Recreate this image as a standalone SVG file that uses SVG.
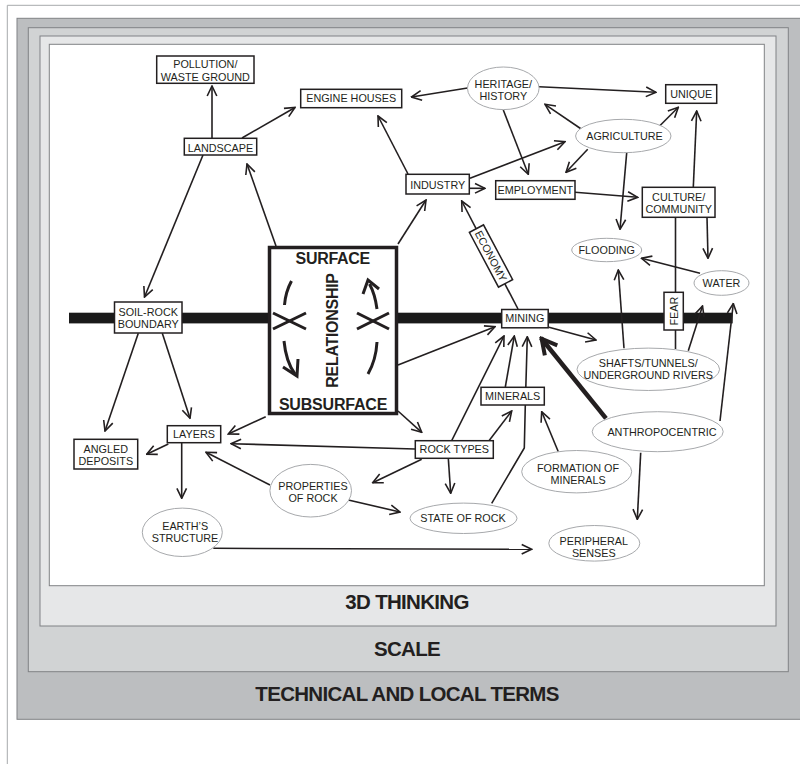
<svg xmlns="http://www.w3.org/2000/svg" width="800" height="764" viewBox="0 0 800 764">
<style>
.box{fill:#fff;stroke:#231f20;stroke-width:1.5}
.ell{fill:#fff;stroke:#a7a9ac;stroke-width:1}
.t{font-family:"Liberation Sans",Arial,sans-serif;font-size:10.8px;fill:#231f20;text-anchor:middle}
.c{fill:none;stroke:#231f20;stroke-width:1.6;marker-end:url(#a)}
.l{fill:none;stroke:#231f20;stroke-width:1.6}
.b{font-family:"Liberation Sans",Arial,sans-serif;font-weight:bold;fill:#231f20;text-anchor:middle}
.frame{stroke:#808285;stroke-width:1}
.arc{fill:none;stroke:#231f20;stroke-width:3;stroke-linecap:butt}
</style>
<defs>
<marker id="a" viewBox="0 0 12 12" refX="11" refY="6" markerWidth="12" markerHeight="12" markerUnits="userSpaceOnUse" orient="auto">
<path d="M1,1.2 L11,6 L1,10.8" fill="none" stroke="#231f20" stroke-width="1.6"/>
</marker>
<marker id="ab" viewBox="0 0 20 20" refX="18" refY="10" markerWidth="20" markerHeight="20" markerUnits="userSpaceOnUse" orient="auto">
<path d="M2,2 L17,10 L2,18" fill="none" stroke="#231f20" stroke-width="4"/>
</marker>
</defs>

<g id="frames">
<line x1="7.3" y1="5.3" x2="800" y2="5.3" stroke="#a7a9ac" stroke-width="1"/>
<line x1="7.3" y1="5.3" x2="7.3" y2="764" stroke="#a7a9ac" stroke-width="1"/>
<rect class="frame" x="17" y="18.3" width="800" height="701" fill="#bcbec0"/>
<rect class="frame" x="28.3" y="27.7" width="760" height="644" fill="#d1d3d4"/>
<rect class="frame" x="40" y="36" width="736" height="590" fill="#e6e7e8"/>
<rect class="frame" x="49.3" y="44.3" width="715" height="541.4" fill="#ffffff" stroke="#939598"/>
<text class="b" x="407" y="609" font-size="20.5" letter-spacing="-0.7">3D THINKING</text>
<text class="b" x="407" y="655.5" font-size="20.5" letter-spacing="-0.7">SCALE</text>
<text class="b" x="407" y="700.5" font-size="20.5" letter-spacing="-0.7">TECHNICAL AND LOCAL TERMS</text>
</g>

<rect id="band" x="69" y="312.7" width="663.7" height="10.7" fill="#1a1a1a"/>

<g id="connectors">
<line class="c" x1="212" y1="138" x2="212" y2="86"/>
<line class="c" x1="242" y1="138" x2="295" y2="107.5"/>
<line class="c" x1="276" y1="246" x2="247" y2="164"/>
<line class="c" x1="203" y1="155" x2="144.5" y2="297"/>
<line class="c" x1="408" y1="174" x2="378" y2="116"/>
<line class="c" x1="467.5" y1="88" x2="411.5" y2="97"/>
<line class="c" x1="539" y1="86.7" x2="656" y2="92.3"/>
<line class="c" x1="582.7" y1="130" x2="545" y2="104.3"/>
<line class="c" x1="658.3" y1="127.3" x2="678.3" y2="107.3"/>
<line class="c" x1="503.3" y1="110" x2="528.3" y2="174.3"/>
<line class="c" x1="587.7" y1="149.3" x2="566" y2="172.3"/>
<line class="c" x1="470" y1="178.3" x2="565" y2="141.7"/>
<line class="c" x1="469.3" y1="188.3" x2="485" y2="188.3"/>
<line class="c" x1="575" y1="192.3" x2="637.7" y2="197.3"/>
<line class="c" x1="693.3" y1="187.3" x2="696.7" y2="111"/>
<line class="c" x1="626.7" y1="152.7" x2="620" y2="229.3"/>
<line class="c" x1="707" y1="217.3" x2="708" y2="258.3"/>
<line class="l" x1="675.5" y1="217.3" x2="675.5" y2="349"/>
<line class="c" x1="398" y1="244" x2="426" y2="200"/>
<line class="c" x1="518" y1="309" x2="461.7" y2="201"/>
<line class="c" x1="700" y1="273.3" x2="641.5" y2="258.3"/>
<line class="c" x1="624" y1="348.3" x2="618.3" y2="270"/>
<line class="c" x1="688.3" y1="350.7" x2="702.5" y2="306"/>
<line class="c" x1="720" y1="421" x2="733.3" y2="303.5"/>
<line class="c" x1="549" y1="327.3" x2="596" y2="340"/>
<line x1="606" y1="418.3" x2="541" y2="338" fill="none" stroke="#231f20" stroke-width="4.5" marker-end="url(#ab)"/>
<line class="c" x1="640.7" y1="452.7" x2="637.3" y2="519.3"/>
<line class="c" x1="505.3" y1="387" x2="514.3" y2="336"/>
<polyline class="c" points="491.7,503.3 524.3,448 525.3,405 527.3,336.7"/>
<line class="c" x1="451.7" y1="440.7" x2="504" y2="336"/>
<line class="c" x1="489" y1="440.7" x2="511.7" y2="411"/>
<line class="c" x1="558.3" y1="451.7" x2="541.7" y2="411.7"/>
<line class="c" x1="398" y1="365" x2="495" y2="326.7"/>
<line class="c" x1="398" y1="411" x2="421.7" y2="432.3"/>
<line class="c" x1="138.3" y1="333.3" x2="105" y2="431"/>
<line class="c" x1="162.3" y1="333.3" x2="190" y2="418.3"/>
<line class="c" x1="265.7" y1="416.7" x2="228.3" y2="434"/>
<line class="c" x1="415" y1="449" x2="231" y2="443.7"/>
<line class="c" x1="168.3" y1="444" x2="146.7" y2="454.3"/>
<line class="c" x1="181.7" y1="442.7" x2="181.7" y2="498.3"/>
<line class="c" x1="270" y1="485" x2="206" y2="452.3"/>
<line class="c" x1="421.7" y1="459.3" x2="372.7" y2="482.7"/>
<line class="c" x1="348.3" y1="500" x2="400" y2="512"/>
<line class="c" x1="213.3" y1="548.3" x2="531.7" y2="549.3"/>
<line class="c" x1="448.3" y1="458.3" x2="450.7" y2="493.3"/>
</g>

<g id="surface-relationship">
<rect x="269.5" y="247.5" width="127" height="166" fill="#fff" stroke="#231f20" stroke-width="3.5"/>
<text class="b" x="332.7" y="264.4" font-size="16" letter-spacing="-0.3">SURFACE</text>
<text class="b" x="333" y="409.5" font-size="16" letter-spacing="-0.2">SUBSURFACE</text>
<text class="b" font-size="16" letter-spacing="-0.3" transform="translate(338,330.5) rotate(-90)">RELATIONSHIP</text>
<path class="arc" d="M291.5,281 Q285.5,292 284.5,305"/>
<path class="arc" d="M284,341 Q286,362 295,374"/>
<polyline class="arc" points="283,367 297,376 298,359"/>
<path class="arc" d="M368,374 Q376,360 377,342"/>
<path class="arc" d="M377,309 Q375,294 369.5,284"/>
<polyline class="arc" points="363,294 368,280 379,289"/>
<line class="arc" x1="273" y1="313" x2="306" y2="329"/>
<line class="arc" x1="273" y1="329" x2="306" y2="313"/>
<line class="arc" x1="357" y1="313" x2="389" y2="329"/>
<line class="arc" x1="357" y1="329" x2="389" y2="313"/>
</g>

<g id="pollution"><rect class="box" x="156.7" y="56" width="97.3" height="27.3"/><text class="t" x="205.3" y="68.2">POLLUTION/</text><text class="t" x="205.3" y="80.9">WASTE GROUND</text></g>
<g id="engine-houses"><rect class="box" x="300.7" y="89.3" width="101" height="18.4"/><text class="t" x="351.2" y="101.6">ENGINE HOUSES</text></g>
<g id="landscape"><rect class="box" x="184.3" y="138.3" width="72.4" height="16.7"/><text class="t" x="220.5" y="151.6">LANDSCAPE</text></g>
<g id="heritage"><ellipse class="ell" cx="503.3" cy="88.3" rx="35.8" ry="21.3"/><text class="t" x="503.3" y="88.2">HERITAGE/</text><text class="t" x="503.3" y="100.2">HISTORY</text></g>
<g id="unique"><rect class="box" x="665.7" y="84.7" width="51" height="18.6"/><text class="t" x="691.2" y="98.2">UNIQUE</text></g>
<g id="agriculture"><ellipse class="ell" cx="623.3" cy="136" rx="47.7" ry="16.7"/><text class="t" x="624.5" y="139.9">AGRICULTURE</text></g>
<g id="industry"><rect class="box" x="406" y="174.3" width="63.3" height="19.7"/><text class="t" x="437.7" y="188.9">INDUSTRY</text></g>
<g id="employment"><rect class="box" x="495.7" y="180.7" width="79.3" height="18.6"/><text class="t" x="535.3" y="193.9">EMPLOYMENT</text></g>
<g id="culture"><rect class="box" x="642.3" y="187.3" width="72.7" height="30"/><text class="t" x="678.7" y="200.6">CULTURE/</text><text class="t" x="678.7" y="212.9">COMMUNITY</text></g>
<g id="economy" transform="translate(491,256) rotate(62)"><rect class="box" x="-31" y="-8" width="62" height="16"/><text class="t" x="0" y="3.9">ECONOMY</text></g>
<g id="flooding"><ellipse class="ell" cx="606.7" cy="250" rx="35" ry="11.7"/><text class="t" x="606.7" y="253.9">FLOODING</text></g>
<g id="water"><ellipse class="ell" cx="721.5" cy="283" rx="27.5" ry="12.3"/><text class="t" x="721.5" y="287.2">WATER</text></g>
<g id="soil-rock"><rect class="box" x="114.5" y="302" width="67.5" height="31"/><text class="t" x="148.2" y="315.6">SOIL-ROCK</text><text class="t" x="148.2" y="327.9">BOUNDARY</text></g>
<g id="mining"><rect class="box" x="501.7" y="309.5" width="46.5" height="18.3"/><text class="t" x="524.8" y="322.2">MINING</text></g>
<g id="fear"><rect class="box" x="664" y="292.3" width="19.3" height="37.7"/><text class="t" transform="translate(677.6,311.2) rotate(-90)">FEAR</text></g>
<g id="shafts"><ellipse class="ell" cx="648.3" cy="369.3" rx="71.3" ry="21.2"/><text class="t" x="648.3" y="367.2">SHAFTS/TUNNELS/</text><text class="t" x="648.3" y="379.2">UNDERGROUND RIVERS</text></g>
<g id="minerals"><rect class="box" x="481" y="387.3" width="63.3" height="17.7"/><text class="t" x="512.7" y="399.9">MINERALS</text></g>
<g id="anthropocentric"><ellipse class="ell" cx="657.7" cy="431.7" rx="65.5" ry="20"/><text class="t" x="662" y="435.6">ANTHROPOCENTRIC</text></g>
<g id="rock-types"><rect class="box" x="415.3" y="440.7" width="78" height="17.6"/><text class="t" x="454.3" y="453.2">ROCK TYPES</text></g>
<g id="layers"><rect class="box" x="167.3" y="425.7" width="53.4" height="17"/><text class="t" x="194" y="437.9">LAYERS</text></g>
<g id="angled-deposits"><rect class="box" x="74" y="439.3" width="63.7" height="29.7"/><text class="t" x="105.8" y="452.6">ANGLED</text><text class="t" x="105.8" y="464.6">DEPOSITS</text></g>
<g id="formation"><ellipse class="ell" cx="576.7" cy="471.7" rx="55" ry="21.2"/><text class="t" x="578" y="471.6">FORMATION OF</text><text class="t" x="578" y="483.9">MINERALS</text></g>
<g id="properties"><ellipse class="ell" cx="310.7" cy="490.7" rx="40.8" ry="26.3"/><text class="t" x="313" y="489.9">PROPERTIES</text><text class="t" x="313" y="501.6">OF ROCK</text></g>
<g id="earths-structure"><ellipse class="ell" cx="182.3" cy="532.3" rx="40" ry="24.2"/><text class="t" x="185.2" y="529.9">EARTH’S</text><text class="t" x="185" y="541.6">STRUCTURE</text></g>
<g id="state-of-rock"><ellipse class="ell" cx="463.5" cy="518.3" rx="53.5" ry="15.2"/><text class="t" x="463" y="522.2">STATE OF ROCK</text></g>
<g id="peripheral"><ellipse class="ell" cx="594.3" cy="543.3" rx="45.5" ry="17.8"/><text class="t" x="593.8" y="544.6">PERIPHERAL</text><text class="t" x="593.8" y="556.6">SENSES</text></g>
</svg>
